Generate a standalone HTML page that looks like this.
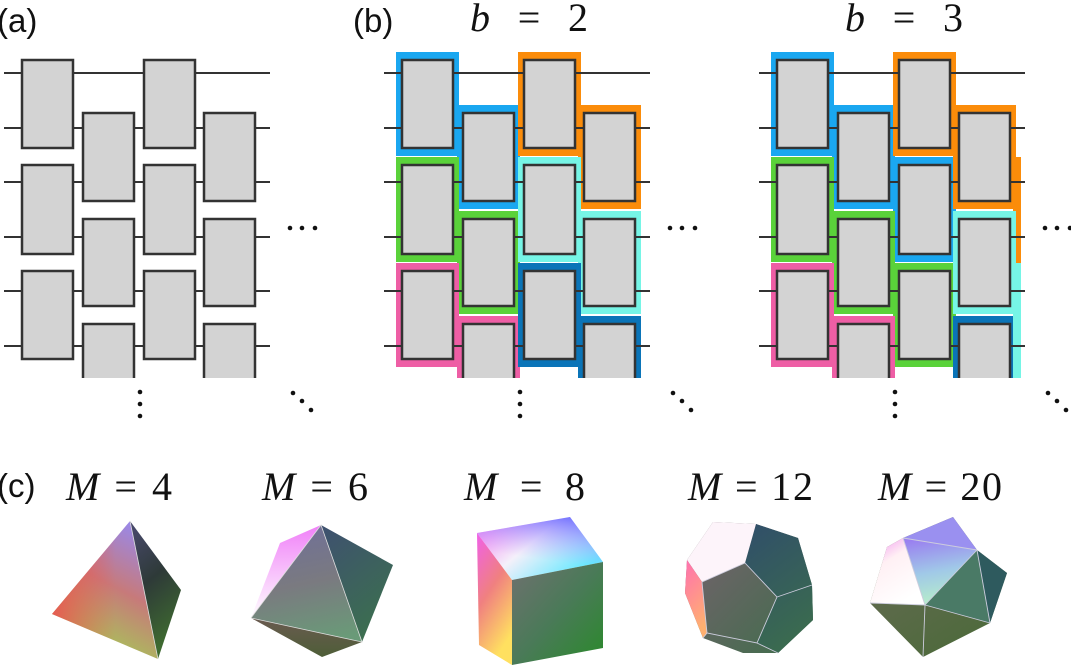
<!DOCTYPE html>
<html><head><meta charset="utf-8"><style>
html,body{margin:0;padding:0;background:#fff;}
svg{display:block;}
.sans{font-family:"Liberation Sans",sans-serif;}
.serif{font-family:"Liberation Serif",serif;}
</style></head><body>
<svg width="1071" height="666" viewBox="0 0 1071 666" xmlns="http://www.w3.org/2000/svg">
<defs>
<g id="grid">
  <g stroke="#333" stroke-width="2">
    <line x1="4" y1="73" x2="270" y2="73"/><line x1="4" y1="128" x2="270" y2="128"/>
    <line x1="4" y1="182" x2="270" y2="182"/><line x1="4" y1="237" x2="270" y2="237"/>
    <line x1="4" y1="291" x2="270" y2="291"/><line x1="4" y1="346" x2="270" y2="346"/>
  </g>
  <g fill="#d3d3d3" stroke="#333" stroke-width="2.5">
    <rect x="22" y="60" width="51" height="88"/><rect x="22" y="165" width="51" height="89"/><rect x="22" y="271" width="51" height="88"/>
    <rect x="144" y="60" width="51" height="88"/><rect x="144" y="165" width="51" height="89"/><rect x="144" y="271" width="51" height="88"/>
    <rect x="83" y="113" width="51" height="88"/><rect x="83" y="219" width="51" height="87"/><path d="M83,378V324H134V378"/>
    <rect x="204" y="113" width="51" height="88"/><rect x="204" y="219" width="51" height="87"/><path d="M204,378V324H255V378"/>
  </g>
  <g fill="#111">
    <circle cx="290" cy="228" r="2.3"/><circle cx="302" cy="228" r="2.3"/><circle cx="315" cy="228" r="2.3"/>
    <circle cx="140" cy="392" r="2.3"/><circle cx="140" cy="404" r="2.3"/><circle cx="140" cy="416" r="2.3"/>
    <circle cx="293" cy="393" r="2.3"/><circle cx="302" cy="401" r="2.3"/><circle cx="311" cy="410" r="2.3"/>
  </g>
</g>
<linearGradient id="t1" x1="0.7" y1="0" x2="0.3" y2="1"><stop offset="0" stop-color="#9a88e8"/><stop offset="0.45" stop-color="#c77a7a"/><stop offset="1" stop-color="#9fd850"/></linearGradient>
<linearGradient id="t1b" x1="0" y1="0.5" x2="1" y2="0.5"><stop offset="0" stop-color="#ee5050" stop-opacity="0.9"/><stop offset="0.6" stop-color="#ee5050" stop-opacity="0"/></linearGradient>
<linearGradient id="t2" x1="0" y1="0" x2="0.3" y2="1"><stop offset="0" stop-color="#4a4a70"/><stop offset="0.5" stop-color="#2e3a38"/><stop offset="1" stop-color="#3e6a30"/></linearGradient>
<linearGradient id="o1" x1="0" y1="0" x2="0" y2="1"><stop offset="0" stop-color="#f080f8"/><stop offset="1" stop-color="#fff"/></linearGradient>
<linearGradient id="o2" x1="0.4" y1="0" x2="0.6" y2="1"><stop offset="0" stop-color="#707098"/><stop offset="0.5" stop-color="#7a7a80"/><stop offset="1" stop-color="#6a9a78"/></linearGradient>
<linearGradient id="o3" x1="0" y1="0" x2="0.5" y2="1"><stop offset="0" stop-color="#3e5070"/><stop offset="1" stop-color="#3c6e50"/></linearGradient>
<linearGradient id="o4" x1="0" y1="0" x2="0" y2="1"><stop offset="0" stop-color="#6a5a50"/><stop offset="1" stop-color="#4e5e38"/></linearGradient>
<linearGradient id="c1" x1="0" y1="0" x2="1" y2="0.6"><stop offset="0" stop-color="#f070f0"/><stop offset="0.5" stop-color="#f4f0fa"/><stop offset="1" stop-color="#60e8ff"/></linearGradient>
<linearGradient id="c1b" x1="0.8" y1="0" x2="0.5" y2="1"><stop offset="0" stop-color="#7070ff"/><stop offset="0.7" stop-color="#c0a0ff" stop-opacity="0"/></linearGradient>
<linearGradient id="c2" x1="0" y1="0" x2="0.4" y2="1"><stop offset="0" stop-color="#f060e8"/><stop offset="0.5" stop-color="#f08080"/><stop offset="1" stop-color="#ffe060"/></linearGradient>
<linearGradient id="c3" x1="0" y1="0" x2="1" y2="1"><stop offset="0" stop-color="#707070"/><stop offset="0.5" stop-color="#4a7a58"/><stop offset="1" stop-color="#2a8a2a"/></linearGradient>
<linearGradient id="d1" x1="0" y1="0" x2="1" y2="1"><stop offset="0" stop-color="#7a6070"/><stop offset="1" stop-color="#3e6e4a"/></linearGradient>
<linearGradient id="d2" x1="0" y1="0" x2="0.4" y2="1"><stop offset="0" stop-color="#304e6a"/><stop offset="1" stop-color="#3a6a50"/></linearGradient>
<linearGradient id="d3" x1="0" y1="0" x2="0.3" y2="1"><stop offset="0" stop-color="#ff70b0"/><stop offset="1" stop-color="#ffb070"/></linearGradient>
<linearGradient id="i1" x1="0.3" y1="0" x2="0.5" y2="1"><stop offset="0" stop-color="#9a80f0"/><stop offset="0.5" stop-color="#a0c8e8"/><stop offset="1" stop-color="#b8f0c8"/></linearGradient>
<linearGradient id="i2" x1="0" y1="0" x2="0.5" y2="1"><stop offset="0" stop-color="#f090f0"/><stop offset="0.4" stop-color="#fff0f4"/><stop offset="1" stop-color="#fff"/></linearGradient>
<linearGradient id="i3" x1="0" y1="0" x2="0.6" y2="1"><stop offset="0" stop-color="#6a6a58"/><stop offset="1" stop-color="#4e6a3c"/></linearGradient>
</defs>

<!-- labels -->
<g class="sans" font-size="33" fill="#111">
  <text x="-3" y="32">(a)</text>
  <text x="353" y="32">(b)</text>
  <text x="-3" y="497">(c)</text>
</g>
<g class="serif" font-size="40" fill="#111">
  <text x="470" y="31" textLength="118" lengthAdjust="spacing"><tspan font-style="italic">b</tspan> = 2</text>
  <text x="845" y="31" textLength="118" lengthAdjust="spacing"><tspan font-style="italic">b</tspan> = 3</text>
</g>

<use href="#grid"/>

<g>
  <rect x="396" y="52" width="63" height="104" fill="#1aa7f0"/><rect x="457" y="105" width="63" height="104" fill="#1aa7f0"/>
  <rect x="518" y="52" width="63" height="104" fill="#fb8c0a"/><rect x="578" y="105" width="63" height="104" fill="#fb8c0a"/>
  <rect x="396" y="157" width="63" height="105" fill="#5ad23a"/><rect x="457" y="211" width="63" height="103" fill="#5ad23a"/>
  <rect x="518" y="157" width="63" height="105" fill="#76f5e6"/><rect x="578" y="211" width="63" height="103" fill="#76f5e6"/>
  <rect x="396" y="263" width="63" height="104" fill="#ee5ea5"/><rect x="457" y="316" width="63" height="62" fill="#ee5ea5"/>
  <rect x="518" y="263" width="63" height="104" fill="#0a74b8"/><rect x="578" y="316" width="63" height="62" fill="#0a74b8"/>
</g>
<use href="#grid" x="380"/>

<g>
  <rect x="771" y="52" width="63" height="104" fill="#1aa7f0"/><rect x="832" y="105" width="63" height="104" fill="#1aa7f0"/><rect x="893" y="157" width="63" height="105" fill="#1aa7f0"/>
  <rect x="893" y="52" width="63" height="104" fill="#fb8c0a"/><rect x="953" y="105" width="63" height="104" fill="#fb8c0a"/><rect x="1013" y="157" width="8" height="106" fill="#fb8c0a"/>
  <rect x="771" y="157" width="63" height="105" fill="#5ad23a"/><rect x="832" y="211" width="63" height="103" fill="#5ad23a"/><rect x="893" y="263" width="63" height="104" fill="#5ad23a"/>
  <rect x="953" y="211" width="63" height="103" fill="#76f5e6"/><rect x="1013" y="263" width="8" height="115" fill="#76f5e6"/>
  <rect x="771" y="263" width="63" height="104" fill="#ee5ea5"/><rect x="832" y="316" width="63" height="62" fill="#ee5ea5"/>
  <rect x="953" y="316" width="60" height="62" fill="#0a74b8"/>
</g>
<use href="#grid" x="755"/>

<g class="serif" font-size="40" fill="#111">
  <text x="66" y="500" textLength="106" lengthAdjust="spacing"><tspan font-style="italic">M</tspan> = 4</text>
  <text x="262" y="500" textLength="106" lengthAdjust="spacing"><tspan font-style="italic">M</tspan> = 6</text>
  <text x="464" y="500" textLength="121" lengthAdjust="spacing"><tspan font-style="italic">M</tspan> = 8</text>
  <text x="688" y="500" textLength="125" lengthAdjust="spacing"><tspan font-style="italic">M</tspan> = 12</text>
  <text x="878" y="500" textLength="124" lengthAdjust="spacing"><tspan font-style="italic">M</tspan> = 20</text>
</g>

<polygon points="130,521 52,614 158,659" fill="url(#t1)"/>
<polygon points="130,521 52,614 158,659" fill="url(#t1b)"/>
<polygon points="130,521 181,590 158,659" fill="url(#t2)"/>
<line x1="130" y1="521" x2="158" y2="659" stroke="#ddd" stroke-width="0.8"/>

<polygon points="280,543 321,525 251,618" fill="url(#o1)"/>
<polygon points="321,525 251,618 362,642" fill="url(#o2)"/>
<polygon points="321,525 393,565 362,642" fill="url(#o3)"/>
<polygon points="251,618 362,642 322,657" fill="url(#o4)"/>
<g stroke="#ddd" stroke-width="0.8" fill="none"><polyline points="251,618 321,525 362,642 251,618"/></g>

<polygon points="477,533 570,517 603,562 512,580" fill="url(#c1)"/>
<polygon points="477,533 570,517 603,562 512,580" fill="url(#c1b)"/>
<polygon points="477,533 512,580 512,665 479,645" fill="url(#c2)"/>
<polygon points="512,580 603,562 603,648 512,665" fill="url(#c3)"/>

<polygon points="713,522 756,524 798,538 812,585 813,620 778,653 743,653 703,638 685,593 687,560" fill="url(#d1)"/>
<polygon points="756,524 798,538 812,585 813,620 778,653 757,643 777,597 745,563" fill="url(#d2)"/>
<polygon points="687,560 713,522 756,524 745,563 702,582" fill="#fdf4fa"/>
<polygon points="687,560 702,582 707,633 703,638 685,593" fill="url(#d3)"/>
<g stroke="#ccd" stroke-width="0.9" fill="none">
  <polyline points="702,582 745,563 777,597 757,643 707,633 702,582"/>
  <line x1="777" y1="597" x2="812" y2="585"/><line x1="757" y1="643" x2="778" y2="653"/><line x1="707" y1="633" x2="703" y2="638"/>
</g>

<polygon points="903,538 953,517 977,550 1007,573 990,623 923,657 870,603 887,547" fill="url(#i3)"/>
<polygon points="903,538 977,550 925,605" fill="url(#i1)"/>
<polygon points="887,547 903,538 925,605 870,603" fill="url(#i2)"/>
<polygon points="903,538 953,517 977,550" fill="#9a90f0"/>
<polygon points="925,605 977,550 990,623" fill="#4a7a66"/>
<polygon points="977,550 1007,573 990,623" fill="#2e5a5e"/>
<g stroke="#ccd" stroke-width="0.9" fill="none">
  <line x1="870" y1="603" x2="925" y2="605"/><line x1="903" y1="538" x2="925" y2="605"/>
  <line x1="925" y1="605" x2="977" y2="550"/><line x1="977" y1="550" x2="990" y2="623"/>
  <line x1="925" y1="605" x2="923" y2="657"/><line x1="925" y1="605" x2="990" y2="623"/>
  <line x1="903" y1="538" x2="977" y2="550"/>
</g>
</svg>
</body></html>
